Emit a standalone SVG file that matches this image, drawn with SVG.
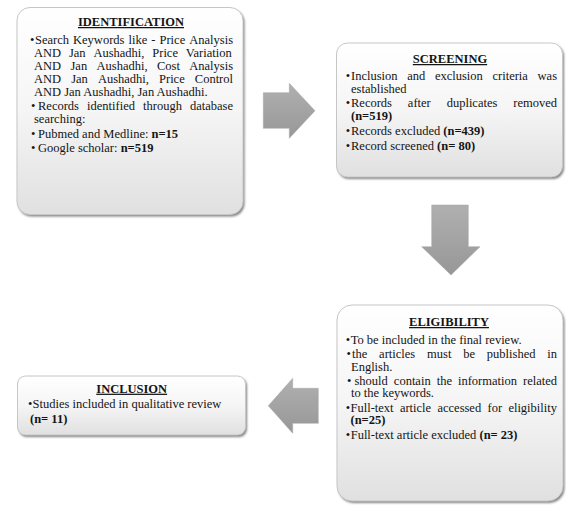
<svg xmlns="http://www.w3.org/2000/svg" width="566" height="505" viewBox="0 0 566 505">
<defs>
<linearGradient id="boxg" x1="0" y1="0" x2="0" y2="1">
<stop offset="0" stop-color="#ffffff"/>
<stop offset="0.5" stop-color="#f5f5f5"/>
<stop offset="1" stop-color="#e0e0e0"/>
</linearGradient>
<linearGradient id="arrg" x1="0" y1="0" x2="0" y2="1">
<stop offset="0" stop-color="#b0b0b0"/>
<stop offset="1" stop-color="#979797"/>
</linearGradient>
<filter id="blur" x="-5%" y="-5%" width="110%" height="110%">
<feGaussianBlur stdDeviation="1.2"/>
</filter>
<style>
.t { font-family: "Liberation Serif", "Times New Roman", serif; font-size: 12.5px; fill: #141414; }
.h { font-weight: bold; text-decoration: underline; text-anchor: middle; }
.b { font-weight: bold; }
.box { fill: url(#boxg); stroke: #c6c6c6; stroke-width: 1; }
.shadow { fill: #858585; filter: url(#blur); }
.arrow { fill: url(#arrg); stroke: #a6a6a6; stroke-width: 0.5; }
</style>
</defs>
<rect width="566" height="505" fill="#ffffff"/>

<g id="connectors">
<polygon class="arrow" points="263.3,92.7 289.3,92.7 289.3,83.3 315,110.8 289.3,138.3 289.3,128.3 263.3,128.3"/>
<polygon class="arrow" points="431.7,205 468.3,205 468.3,246.7 480,246.7 451,275 421.7,246.7 431.7,246.7"/>
<polygon class="arrow" points="318.3,388.3 292.7,388.3 292.7,378.3 268.3,405.8 292.7,433.3 292.7,423.3 318.3,423.3"/>
</g>

<g id="identification">
<rect class="shadow" x="18.5" y="9.5" width="226" height="207" rx="13"/>
<rect class="box" x="17" y="7.5" width="226" height="207" rx="13"/>
<text class="t h" x="131" y="26">IDENTIFICATION</text>
<text class="t" x="30" y="44">•</text>
<text class="t" y="44"><tspan x="35">Search</tspan> <tspan x="73.04">Keywords</tspan> <tspan x="128.5">like</tspan> <tspan x="151.3">-</tspan> <tspan x="159.5">Price</tspan> <tspan x="189.25">Analysis</tspan></text>
<text class="t" y="57"><tspan x="34">AND</tspan> <tspan x="68.93">Jan</tspan> <tspan x="93.42">Aushadhi,</tspan> <tspan x="152.29">Price</tspan> <tspan x="185.82">Variation</tspan></text>
<text class="t" y="70"><tspan x="34">AND</tspan> <tspan x="70.49">Jan</tspan> <tspan x="96.54">Aushadhi,</tspan> <tspan x="156.97">Cost</tspan> <tspan x="189.26">Analysis</tspan></text>
<text class="t" y="83"><tspan x="34">AND</tspan> <tspan x="71.18">Jan</tspan> <tspan x="97.92">Aushadhi,</tspan> <tspan x="159.04">Price</tspan> <tspan x="194.82">Control</tspan></text>
<text class="t" x="34" y="96">AND Jan Aushadhi, Jan Aushadhi.</text>
<text class="t" x="31" y="110">•</text>
<text class="t" y="110"><tspan x="38">Records</tspan> <tspan x="87.04">identified</tspan> <tspan x="143.02">through</tspan> <tspan x="190">database</tspan></text>
<text class="t" x="34" y="123">searching:</text>
<text class="t" x="31" y="138">•</text>
<text class="t" x="38" y="138">Pubmed and Medline: <tspan class="b">n=15</tspan></text>
<text class="t" x="31" y="152">•</text>
<text class="t" x="38" y="152">Google scholar: <tspan class="b">n=519</tspan></text>
</g>

<g id="screening">
<rect class="shadow" x="338" y="45" width="226" height="134" rx="11"/>
<rect class="box" x="336.5" y="43" width="226" height="134" rx="11"/>
<text class="t h" x="450" y="63">SCREENING</text>
<text class="t" x="345.7" y="79.5">•</text>
<text class="t" y="79.5"><tspan x="351">Inclusion</tspan> <tspan x="407.18">and</tspan> <tspan x="434.91">exclusion</tspan> <tspan x="492.49">criteria</tspan> <tspan x="537.57">was</tspan></text>
<text class="t" x="351" y="92.5">established</text>
<text class="t" x="345.7" y="107">•</text>
<text class="t" y="107"><tspan x="351">Records</tspan> <tspan x="407.86">after</tspan> <tspan x="446.66">duplicates</tspan> <tspan x="513.26">removed</tspan></text>
<text class="t b" x="351" y="120">(n=519)</text>
<text class="t" x="345.7" y="135">•</text>
<text class="t" x="351" y="135">Records excluded <tspan class="b">(n=439)</tspan></text>
<text class="t" x="345.7" y="150">•</text>
<text class="t" x="351" y="150">Record screened <tspan class="b">(n= 80)</tspan></text>
</g>

<g id="eligibility">
<rect class="shadow" x="338.5" y="307" width="226" height="196" rx="15"/>
<rect class="box" x="337" y="305" width="226" height="196" rx="15"/>
<text class="t h" x="449" y="326">ELIGIBILITY</text>
<text class="t" x="345.7" y="344">•</text>
<text class="t" x="350.7" y="344">To be included in the final review.</text>
<text class="t" x="346.5" y="358">•</text>
<text class="t" y="358"><tspan x="352">the</tspan> <tspan x="379.12">articles</tspan> <tspan x="427.06">must</tspan> <tspan x="463.2">be</tspan> <tspan x="486.84">published</tspan> <tspan x="547.28">in</tspan></text>
<text class="t" x="351" y="370.5">English.</text>
<text class="t" x="347" y="384.5">•</text>
<text class="t" y="384.5"><tspan x="354.5">should</tspan> <tspan x="393.85">contain</tspan> <tspan x="436.66">the</tspan> <tspan x="457.95">information</tspan> <tspan x="522.99">related</tspan></text>
<text class="t" x="351" y="397">to the keywords.</text>
<text class="t" x="345.7" y="411.5">•</text>
<text class="t" y="411.5"><tspan x="350.5">Full-text</tspan> <tspan x="399.88">article</tspan> <tspan x="437.44">accessed</tspan> <tspan x="487.49">for</tspan> <tspan x="508.39">eligibility</tspan></text>
<text class="t b" x="350.5" y="424">(n=25)</text>
<text class="t" x="345.7" y="438.5">•</text>
<text class="t" x="350.7" y="438.5">Full-text article excluded <tspan class="b">(n= 23)</tspan></text>
</g>

<g id="inclusion">
<rect class="shadow" x="19" y="378" width="228" height="59" rx="8"/>
<rect class="box" x="17.5" y="376" width="228" height="59" rx="8"/>
<text class="t h" x="131.7" y="392.7">INCLUSION</text>
<text class="t" x="28" y="408.3">•</text>
<text class="t" x="32.5" y="408.3">Studies included in qualitative review</text>
<text class="t b" x="30" y="423.3">(n= 11)</text>
</g>
</svg>
